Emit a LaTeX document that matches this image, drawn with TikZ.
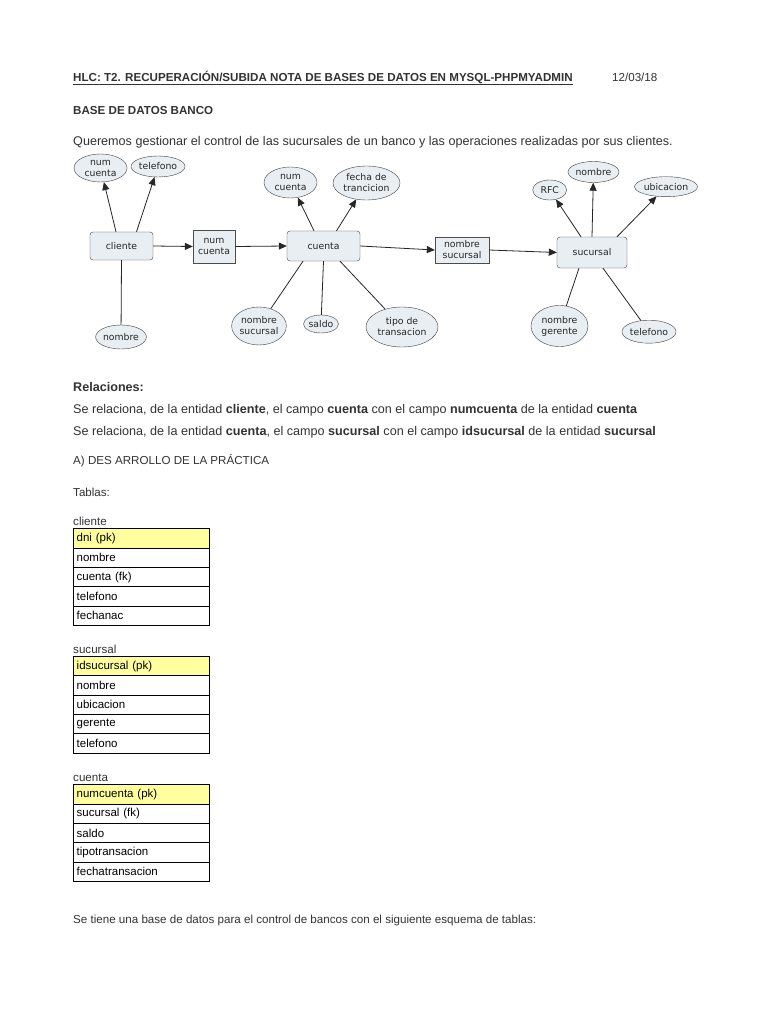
\documentclass[tikz,border=0pt]{standalone}
\usepackage{fontspec}
\setmainfont{Liberation Sans}
\newfontfamily\diagfont{DejaVu Sans}
\usetikzlibrary{arrows.meta,shapes.geometric}

\definecolor{nodefill}{HTML}{E8EEF2}
\definecolor{pkyellow}{HTML}{FFFF9E}
\definecolor{txtgray}{HTML}{333333}

\tikzset{
  ent/.style={draw=black!75, fill=nodefill, rounded corners=3pt, inner sep=0pt, align=center, text=black!85, font=\diagfont\fontsize{9.3}{11}\selectfont},
  keybox/.style={draw=black!70, fill=nodefill, inner sep=0pt, align=center, text=black!85, font=\diagfont\fontsize{9.3}{11}\selectfont},
  attr/.style={ellipse, draw=black!75, fill=nodefill, inner sep=0pt, align=center, text=black!85, font=\diagfont\fontsize{9.3}{11}\selectfont},
  rel/.style={black!85, line width=0.8pt},
  relarrow/.style={rel, -{Triangle[length=8pt,width=7pt]}},
  txt/.style={anchor=base west, inner sep=0pt, text=txtgray, font=\fontsize{12.6}{15}\selectfont},
  small/.style={txt, font=\fontsize{11.6}{14}\selectfont},
  cell/.style={draw=black, line width=0.8pt, anchor=north west, text width=130pt, align=left, inner xsep=3pt, inner ysep=0pt, minimum height=19.35pt, text=black, font=\fontsize{11.5}{13}\selectfont},
}

\begin{document}
\begin{tikzpicture}[x=1pt,y=-1pt]
\useasboundingbox[fill=white] (0,0) rectangle (768,1024);
% header
\node[txt, font=\bfseries\fontsize{11.6}{14}\selectfont] (hdr) at (73,82) {HLC: T2. RECUPERACIÓN/SUBIDA NOTA DE BASES DE DATOS EN MYSQL-PHPMYADMIN};
\draw[txtgray, line width=0.8pt] ([yshift=-2.2pt]hdr.base west) -- ([yshift=-2.2pt]hdr.base east);
\node[small] (fecha) at (612,82) {12/03/18};
\node[txt, font=\bfseries\fontsize{11.6}{14}\selectfont] (titulo) at (73,115) {BASE DE DATOS BANCO};
\node[txt] (intro) at (73,146) {Queremos gestionar el control de las sucursales de un banco y las operaciones realizadas por sus clientes.};

% entities and key boxes
\node[ent, minimum width=63pt, minimum height=28pt] (cliente) at (121.5,246) {cliente};
\node[keybox, minimum width=42pt, minimum height=33pt] (kcta) at (214,246.5) {num\\cuenta};
\node[ent, minimum width=73pt, minimum height=30pt] (cuenta) at (323.5,246) {cuenta};
\node[keybox, minimum width=54pt, minimum height=26pt] (ksuc) at (462,250) {nombre\\sucursal};
\node[ent, minimum width=70pt, minimum height=31pt] (sucursal) at (592,252.5) {sucursal};

% attributes
\node[attr, minimum width=53pt, minimum height=28pt] (cnum) at (100.5,168) {num\\cuenta};
\node[attr, minimum width=52pt, minimum height=21pt] (ctel) at (158,166.5) {telefono};
\node[attr, minimum width=50pt, minimum height=24pt] (cnom) at (121,337) {nombre};
\node[attr, minimum width=53pt, minimum height=31pt] (anum) at (290.5,182.5) {num\\cuenta};
\node[attr, minimum width=67pt, minimum height=34pt] (afec) at (366.5,183) {fecha de\\trancicion};
\node[attr, minimum width=54pt, minimum height=38pt] (asuc) at (259,326) {nombre\\sucursal};
\node[attr, minimum width=32pt, minimum height=18pt] (asal) at (321,324) {saldo};
\node[attr, minimum width=72pt, minimum height=40pt] (atip) at (402,327) {tipo de\\transacion};
\node[attr, minimum width=34pt, minimum height=20pt] (srfc) at (549.7,190) {RFC};
\node[attr, minimum width=51pt, minimum height=21pt] (snom) at (593.5,172) {nombre};
\node[attr, minimum width=58pt, minimum height=20pt] (subi) at (666,186.7) {ubicacion};
\node[attr, minimum width=57pt, minimum height=41pt] (sger) at (559.5,326) {nombre\\gerente};
\node[attr, minimum width=52pt, minimum height=23pt] (stel) at (649,331.7) {telefono};

% connectors
\draw[relarrow] ([xshift=-5.5pt]cliente.north) -- (cnum);
\draw[relarrow] ([xshift=15pt]cliente.north) -- (ctel);
\draw[rel] (cliente.south) -- (cnom);
\draw[relarrow] (cliente.east) -- (kcta.west);
\draw[relarrow] (kcta.east) -- (cuenta.west);
\draw[relarrow] ([xshift=-9.5pt]cuenta.north) -- (anum);
\draw[relarrow] ([xshift=13pt]cuenta.north) -- (afec);
\draw[rel] ([xshift=-20.5pt]cuenta.south) -- (asuc);
\draw[rel] (cuenta.south) -- (asal);
\draw[rel] ([xshift=16.5pt]cuenta.south) -- (atip);
\draw[relarrow] (cuenta.east) -- (ksuc.west);
\draw[relarrow] (ksuc.east) -- (sucursal.west);
\draw[relarrow] ([xshift=-11pt]sucursal.north) -- (srfc);
\draw[relarrow] (sucursal.north) -- (snom);
\draw[relarrow] ([xshift=25pt]sucursal.north) -- (subi);
\draw[rel] ([xshift=-13pt]sucursal.south) -- (sger);
\draw[rel] ([xshift=11pt]sucursal.south) -- (stel);

% relations text
\node[txt, font=\bfseries\fontsize{12.6}{15}\selectfont] (relac) at (73,391) {Relaciones:};
\node[txt] (rel1) at (73,413) {Se relaciona, de la entidad \textbf{cliente}, el campo \textbf{cuenta} con el campo \textbf{numcuenta} de la entidad \textbf{cuenta}};
\node[txt] (rel2) at (73,435) {Se relaciona, de la entidad \textbf{cuenta}, el campo \textbf{sucursal} con el campo \textbf{idsucursal} de la entidad \textbf{sucursal}};
\node[small] (desa) at (73,464) {A) DES ARROLLO DE LA PRÁCTICA};
\node[small] (tablas) at (73,496) {Tablas:};

% tables
\node[small] (tcli) at (73,525) {cliente};
\node[cell, fill=pkyellow] (cli0) at (73.3,528.3) {dni (pk)};
\foreach \i/\txt in {1/nombre,2/cuenta (fk),3/telefono,4/fechanac}
  \node[cell] (cli\i) at (73.3,{528.3+\i*19.35}) {\txt};

\node[small] (tsuc) at (73,653) {sucursal};
\node[cell, fill=pkyellow] (suc0) at (73.3,656) {idsucursal (pk)};
\foreach \i/\txt in {1/nombre,2/ubicacion,3/gerente,4/telefono}
  \node[cell] (suc\i) at (73.3,{656+\i*19.35}) {\txt};

\node[small] (tcta) at (73,781) {cuenta};
\node[cell, fill=pkyellow] (cta0) at (73.3,784.3) {numcuenta (pk)};
\foreach \i/\txt in {1/sucursal (fk),2/saldo,3/tipotransacion,4/fechatransacion}
  \node[cell] (cta\i) at (73.3,{784.3+\i*19.35}) {\txt};

\node[small] (final) at (73,923) {Se tiene una base de datos para el control de bancos con el siguiente esquema de tablas:};
\end{tikzpicture}
\end{document}
